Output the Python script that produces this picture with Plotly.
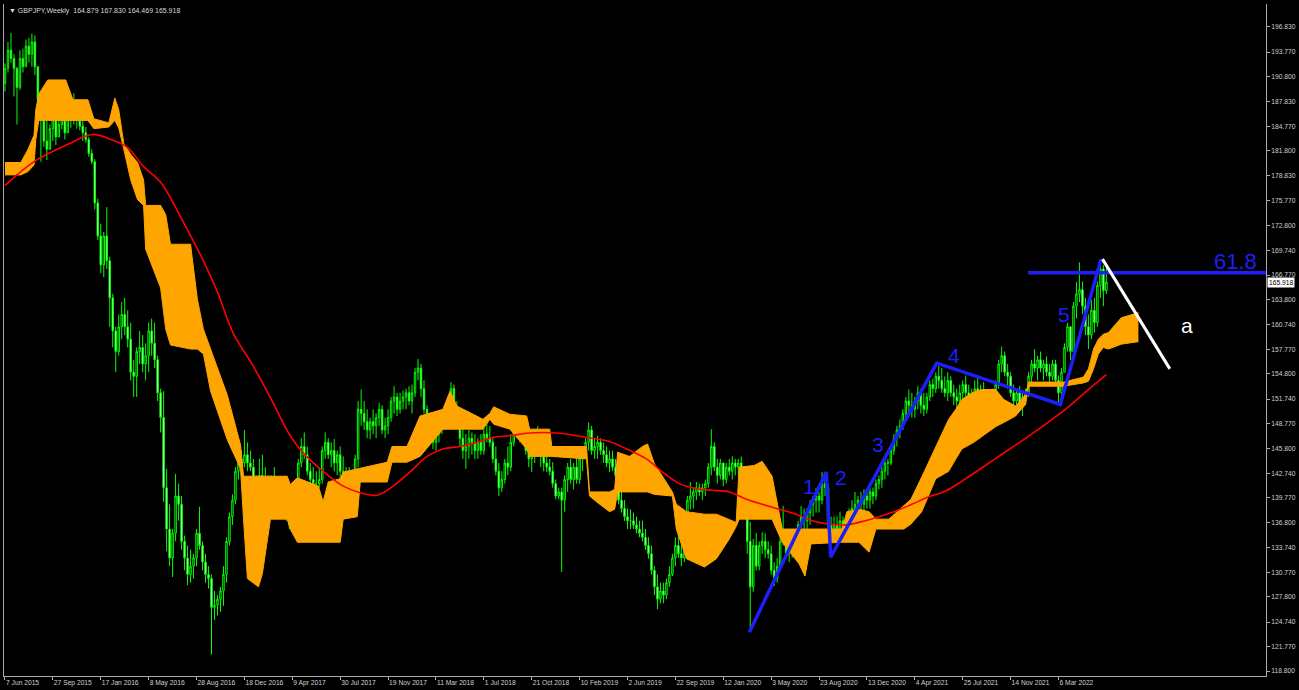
import plotly.graph_objects as go

# ---------------- data (weekly GBPJPY, week index 0 = 7 Jun 2015) ----------------
first_open = 190.0
highs = [
    192.4, 195.0, 196.1, 193.5, 192.0, 194.0, 194.2, 195.3,
    195.5, 196.0, 195.8, 192.0, 188.0, 186.4, 185.6, 185.0,
    186.4, 186.0, 186.0, 186.8, 186.2, 186.5, 187.6, 188.8,
    187.5, 187.0, 186.0, 184.7, 183.5, 182.0, 180.8, 176.0,
    173.0, 172.0, 175.0, 169.0, 164.5, 160.5, 162.0, 163.5,
    164.0, 162.5, 161.0, 156.5, 158.0, 160.0, 159.5, 158.5,
    161.0, 161.5, 161.0, 157.0, 153.0, 152.7, 143.3, 139.0,
    136.0, 142.7, 141.5, 140.0, 135.2, 134.0, 133.5, 133.0,
    136.0, 138.7, 134.5, 133.0, 131.5, 130.5, 128.5, 128.0,
    129.0, 131.5, 135.0, 138.0, 140.2, 143.5, 146.8, 145.5,
    148.0, 146.5, 145.5, 144.5, 142.5, 144.5, 145.0, 143.5,
    142.5, 142.5, 143.5, 141.5, 141.0, 141.5, 140.5, 139.0,
    138.0, 142.0, 144.5, 147.0, 147.7, 146.0, 144.0, 143.5,
    143.0, 143.5, 146.0, 147.7, 147.0, 146.5, 146.9, 145.5,
    146.0, 144.8, 143.5, 143.5, 143.0, 145.0, 151.5, 152.9,
    151.5, 150.5, 149.5, 150.5, 150.0, 151.3, 151.0, 149.5,
    150.5, 152.0, 153.3, 152.5, 152.5, 152.8, 153.0, 153.3,
    153.5, 155.5, 156.6, 156.0, 154.0, 151.0, 150.0, 148.5,
    148.5, 149.5, 150.0, 150.9, 152.0, 153.8, 153.5, 151.5,
    150.1, 148.5, 147.5, 148.0, 147.7, 147.5, 147.0, 147.5,
    148.5, 149.3, 148.5, 147.0, 146.0, 144.0, 143.0, 144.5,
    146.0, 147.5, 149.0, 149.3, 149.0, 149.0, 148.5, 146.5,
    146.0, 148.0, 148.5, 146.0, 145.3, 145.0, 144.5, 144.1,
    142.0, 141.0, 141.0, 142.5, 144.0, 144.5, 144.0, 145.0,
    145.0, 145.7, 147.0, 148.9, 148.5, 147.0, 147.3, 147.0,
    146.5, 146.0, 145.5, 145.5, 144.5, 142.5, 141.0, 139.5,
    138.5, 138.4, 138.0, 137.5, 137.0, 137.0, 136.0, 135.0,
    134.0, 131.5, 130.5, 129.5, 129.5, 130.0, 131.5, 133.0,
    135.0, 135.6, 134.5, 136.0, 140.0, 141.7, 141.0, 141.7,
    141.5, 141.5, 142.0, 144.0, 148.1, 146.5, 144.5, 144.5,
    144.0, 144.0, 144.5, 144.8, 144.5, 144.5, 144.8, 143.5,
    140.0, 136.9, 134.8, 135.5, 134.5, 135.6, 135.5, 134.5,
    134.0, 132.0, 132.5, 135.0, 138.8, 135.5, 134.5, 135.2,
    135.5, 137.0, 138.8, 138.5, 138.5, 139.5, 140.0, 141.0,
    140.5, 142.9, 142.9, 141.5, 137.5, 137.5, 137.5, 138.1,
    137.5, 137.0, 138.5, 139.5, 140.5, 140.0, 140.5, 140.8,
    140.5, 141.0, 141.0, 142.0, 142.5, 143.5, 144.8, 144.5,
    146.0, 147.5, 148.5, 149.3, 150.5, 152.0, 152.9, 152.5,
    152.0, 153.3, 153.0, 152.5, 152.5, 154.0, 154.2, 155.0,
    155.8, 155.5, 154.5, 155.0, 154.5, 153.5, 153.0, 153.5,
    154.0, 154.6, 153.5, 153.0, 154.0, 154.5, 153.5, 153.8,
    152.0, 152.5, 153.0, 154.0, 156.5, 158.1, 157.5, 156.0,
    155.0, 153.5, 153.0, 153.3, 152.5, 153.0, 155.0, 156.5,
    157.8, 157.0, 157.5, 156.5, 156.9, 156.0, 156.5, 156.5,
    154.6, 155.5, 158.5, 161.0, 160.5, 163.5, 165.9, 168.3,
    166.0, 164.0, 162.0, 163.8, 164.0, 166.0, 168.7, 168.0,
    167.830,
]
lows = [
    189.0, 191.3, 192.5, 188.4, 185.0, 189.2, 191.3, 192.0,
    192.5, 192.0, 191.0, 187.2, 180.5, 182.3, 180.7, 182.3,
    183.0, 182.5, 183.5, 184.4, 183.2, 184.0, 184.6, 185.0,
    184.5, 184.3, 183.0, 182.8, 181.1, 180.2, 174.7, 171.0,
    167.0, 166.5, 167.5, 160.5, 158.0, 155.0, 157.0, 159.0,
    159.5, 158.0, 154.0, 152.0, 152.0, 156.0, 155.0, 154.0,
    155.0, 157.0, 155.5, 151.5, 147.7, 139.3, 133.3, 131.5,
    130.2, 134.5, 137.0, 133.5, 131.0, 129.2, 129.5, 130.0,
    131.5, 133.5, 131.0, 129.5, 128.8, 120.8, 125.0, 125.5,
    126.0, 126.7, 129.5, 134.0, 136.5, 139.0, 142.0, 142.5,
    143.5, 143.0, 143.0, 139.5, 139.0, 140.5, 141.5, 140.0,
    139.5, 139.5, 139.5, 138.0, 137.5, 138.5, 137.0, 136.0,
    135.8, 136.5, 141.0, 143.5, 144.5, 142.5, 141.5, 141.0,
    140.7, 141.0, 141.5, 144.5, 144.5, 143.5, 143.0, 142.5,
    142.1, 141.5, 141.2, 141.2, 140.8, 141.5, 143.5, 148.5,
    148.0, 147.0, 146.9, 147.5, 147.0, 148.5, 147.5, 147.0,
    147.5, 149.0, 150.0, 149.7, 150.0, 150.5, 150.5, 151.0,
    150.0, 152.0, 154.0, 152.0, 150.0, 147.5, 146.5, 145.7,
    145.5, 146.5, 147.5, 148.0, 149.0, 150.5, 150.0, 149.0,
    146.0, 144.5, 143.3, 144.5, 145.0, 144.5, 144.5, 145.0,
    145.0, 146.5, 146.0, 144.0, 142.5, 140.0, 140.5, 141.5,
    142.5, 143.0, 146.0, 147.0, 146.5, 147.0, 145.0, 143.5,
    142.9, 144.0, 145.0, 143.5, 143.0, 142.9, 142.5, 141.0,
    139.6, 139.6, 130.8, 138.1, 140.5, 141.5, 140.8, 141.5,
    141.5, 143.0, 144.5, 145.5, 145.0, 144.5, 144.5, 145.0,
    144.0, 143.5, 142.9, 143.0, 142.0, 139.0, 138.0, 137.0,
    136.0, 136.0, 136.0, 135.5, 135.0, 134.5, 133.5, 132.4,
    130.5, 128.0, 126.3, 127.0, 127.0, 127.5, 129.0, 130.3,
    131.5, 132.5, 131.5, 132.0, 135.0, 138.4, 138.5, 139.5,
    140.0, 139.5, 140.0, 141.0, 142.5, 143.0, 141.5, 142.0,
    141.2, 141.5, 142.5, 142.0, 142.5, 142.5, 142.1, 138.8,
    133.0, 123.7, 128.4, 131.0, 131.0, 133.0, 132.5, 132.4,
    130.5, 129.1, 129.5, 131.0, 134.0, 132.5, 132.0, 132.5,
    133.0, 134.5, 135.5, 135.2, 136.0, 136.5, 137.5, 138.0,
    138.0, 139.0, 140.0, 136.0, 134.4, 134.8, 135.5, 135.5,
    135.0, 135.0, 135.5, 137.2, 137.5, 138.0, 138.0, 138.1,
    138.5, 138.5, 139.0, 139.5, 140.8, 141.0, 142.0, 142.5,
    143.7, 145.0, 146.0, 147.0, 148.0, 149.3, 150.0, 149.5,
    149.5, 150.5, 150.0, 149.7, 150.0, 151.5, 152.0, 152.5,
    153.0, 152.5, 152.0, 151.5, 152.0, 151.0, 150.5, 151.0,
    151.5, 152.0, 151.0, 150.9, 151.5, 152.0, 151.5, 150.5,
    149.7, 150.0, 150.5, 150.5, 153.0, 155.0, 154.5, 153.0,
    152.0, 150.5, 150.5, 150.5, 149.7, 151.0, 152.0, 153.8,
    155.0, 154.0, 155.0, 154.0, 154.5, 153.8, 154.0, 153.5,
    151.4, 152.0, 155.0, 157.5, 156.5, 157.5, 161.5, 163.5,
    162.0, 159.5, 157.8, 159.0, 159.8, 160.5, 164.0, 163.0,
    164.469,
]
closes = [
    191.8, 194.0, 193.0, 191.8, 189.5, 193.0, 192.0, 194.5,
    193.5, 195.0, 192.0, 188.0, 186.5, 183.0, 182.0, 184.5,
    185.8, 183.5, 185.0, 186.0, 184.0, 185.8, 187.0, 185.5,
    186.5, 184.8, 184.0, 183.2, 181.5, 180.5, 175.5, 171.5,
    168.0, 171.5, 168.5, 164.0, 160.0, 157.5, 160.5, 162.0,
    160.5, 159.0, 155.0, 154.5, 157.5, 158.0, 156.0, 157.0,
    160.0, 158.5, 156.5, 152.5, 149.5, 141.0, 136.0, 132.5,
    135.5, 140.0, 139.0, 134.5, 132.5, 130.5, 131.5, 132.5,
    135.5, 134.0, 132.0, 130.5, 130.0, 126.5, 126.8, 127.5,
    128.5, 130.5, 134.5, 137.5, 139.5, 143.0, 144.5, 144.0,
    145.0, 144.0, 143.5, 140.0, 141.5, 142.5, 142.0, 141.0,
    140.5, 140.5, 140.0, 139.0, 140.5, 139.0, 138.0, 136.5,
    137.5, 141.5, 144.0, 146.0, 145.0, 143.0, 142.0, 141.5,
    141.5, 142.0, 145.5, 146.5, 145.0, 145.5, 144.0, 145.0,
    143.0, 142.0, 142.5, 141.8, 142.5, 144.5, 150.5, 150.0,
    149.0, 148.0, 149.0, 148.5, 149.5, 150.5, 148.0, 148.5,
    149.5, 151.5, 152.0, 150.5, 151.5, 152.0, 152.5, 151.5,
    152.5, 155.0, 155.5, 153.0, 150.5, 148.5, 147.5, 146.5,
    147.5, 148.5, 149.0, 149.5, 151.5, 153.0, 150.5, 149.5,
    147.0, 145.5, 146.0, 147.0, 146.5, 145.5, 146.5, 145.5,
    147.5, 147.0, 146.5, 144.5, 143.0, 141.0, 142.0, 144.0,
    143.5, 146.5, 148.5, 148.0, 148.5, 147.5, 145.5, 144.5,
    145.0, 147.0, 145.5, 145.0, 144.0, 143.5, 143.0, 141.5,
    140.0, 140.5, 139.5, 142.0, 143.5, 142.0, 143.5, 142.0,
    144.5, 145.0, 146.5, 148.0, 145.5, 146.0, 146.5, 145.5,
    145.0, 144.0, 144.5, 143.5, 142.5, 139.5, 138.5, 137.5,
    137.0, 137.0, 136.5, 136.0, 135.5, 135.0, 134.0, 133.0,
    131.0, 129.0, 127.5, 128.5, 128.0, 129.5, 130.5, 132.5,
    134.0, 133.0, 132.5, 135.5, 139.5, 140.0, 140.5, 141.0,
    140.5, 141.0, 141.5, 143.5, 146.0, 143.5, 142.5, 144.0,
    142.0, 143.5, 143.0, 144.0, 143.5, 144.0, 143.0, 139.5,
    134.5, 129.0, 134.0, 131.5, 134.0, 134.5, 133.5, 133.0,
    131.0, 130.0, 131.5, 134.5, 135.0, 133.0, 133.5, 134.0,
    135.0, 136.5, 137.5, 137.0, 138.0, 139.0, 139.5, 140.0,
    139.5, 141.5, 141.0, 136.5, 135.5, 136.5, 136.0, 137.0,
    136.0, 136.5, 138.0, 138.5, 139.0, 139.5, 139.0, 140.0,
    139.5, 140.5, 140.0, 141.5, 142.0, 143.0, 144.0, 144.0,
    145.5, 147.0, 148.0, 148.5, 150.0, 151.5, 151.0, 150.5,
    151.5, 152.5, 151.0, 150.5, 152.0, 153.5, 153.0, 154.5,
    154.0, 153.0, 152.5, 154.0, 152.5, 152.0, 151.5, 152.5,
    153.5, 152.5, 151.5, 152.5, 153.0, 152.5, 152.0, 151.0,
    150.5, 152.0, 151.0, 153.5, 156.0, 157.0, 155.0, 154.5,
    152.5, 151.5, 152.5, 151.0, 152.0, 152.5, 154.5, 156.0,
    155.5, 156.5, 155.5, 156.0, 155.0, 154.5, 156.0, 154.0,
    152.5, 155.0, 158.0, 160.5, 157.5, 163.0, 164.5, 165.0,
    163.0, 160.5, 159.5, 162.5, 161.0, 165.5, 167.5, 164.879,
    165.918,
]

# Ichimoku cloud boundaries (week index, span values)
cloud_w = [0, 5.3, 7.7, 9.7, 10.3, 11.3, 14.3, 20.3, 22.7, 27.7, 29.7, 34.7, 36.7, 38, 39.7, 42,
           44.3, 46.3, 47, 52, 53.7, 55.3, 62, 64.3, 66.3, 68.7, 74.3, 78.7, 79.7, 81, 84.7, 86,
           88.7, 94.3, 95.3, 97.7, 104.7, 106.3, 108, 112, 113, 117.7, 118.7, 127.7, 129.3, 134.3,
           138.7, 146.3, 148.7, 151, 159.7, 162, 163.3, 168.7, 174.3, 175.3, 182, 182.7, 194.3,
           195.3, 198.7, 202, 203.7, 204.7, 208.7, 213, 214.7, 217, 223, 224.3, 227.7, 233.7,
           237.7, 242, 244.3, 245.3, 250.3, 253, 256.3, 259.7, 265.3, 267.3, 269.3, 279.7, 281.3,
           285.3, 288.7, 291, 295.3, 300.3, 302.7, 306.3, 311, 315.3, 317.7, 319.7, 323.7, 326.3,
           331, 333.7, 337.7, 341, 342, 353.7, 360.3, 362, 363.7, 365.3, 367, 368.7, 373, 378.7]
cloud_top = [180.4, 180.4, 182.0, 183.7, 186.8, 188.7, 190.4, 190.4, 188.0, 188.0, 185.7, 185.2,
             188.2, 186.8, 182.7, 181.4, 180.4, 178.3, 175.2, 175.2, 174.1, 170.5, 170.5, 163.8,
             160.2, 157.8, 152.2, 146.2, 142.4, 142.4, 142.4, 142.4, 142.4, 142.4, 141.4, 142.2,
             141.2, 139.3, 141.7, 142.1, 142.9, 143.3, 143.3, 144.1, 146.0, 146.0, 149.7, 150.5,
             152.7, 150.9, 149.3, 150.0, 150.8, 149.9, 149.7, 148.1, 148.1, 146.0, 146.0, 140.5,
             140.5, 140.5, 140.8, 145.3, 144.8, 146.0, 146.3, 143.9, 140.5, 139.0, 138.1, 137.8,
             137.8, 137.2, 136.8, 143.5, 143.7, 144.2, 142.4, 136.0, 136.0, 136.0, 136.0, 136.0,
             138.1, 138.4, 138.1, 137.2, 137.2, 138.8, 139.6, 142.3, 146.0, 149.3, 150.5, 151.7,
             152.6, 152.9, 152.9, 151.7, 150.9, 152.3, 153.8, 153.8, 154.4, 155.4, 157.8, 159.0,
             159.6, 159.8, 161.6, 162.2]
cloud_bot = [178.9, 178.9, 179.3, 180.1, 183.2, 185.5, 185.5, 185.5, 185.5, 185.5, 184.5, 184.7,
             185.5, 184.6, 182.0, 178.3, 175.9, 175.2, 169.9, 165.2, 160.2, 158.3, 157.8, 157.8,
             157.2, 152.7, 146.8, 143.3, 137.2, 130.0, 129.0, 130.6, 137.2, 137.2, 136.0, 134.4,
             134.4, 134.4, 134.4, 134.4, 137.2, 137.5, 141.7, 141.7, 144.1, 144.1, 144.8, 148.1,
             148.1, 148.1, 148.1, 149.3, 148.7, 148.1, 145.7, 144.8, 144.8, 144.8, 144.5, 140.0,
             139.0, 138.1, 138.4, 140.5, 140.5, 140.5, 140.5, 140.2, 140.0, 136.0, 132.4, 131.4,
             132.4, 134.8, 136.3, 137.2, 137.2, 137.2, 137.2, 134.4, 131.8, 130.3, 134.2, 134.4,
             134.4, 134.4, 133.2, 136.0, 136.0, 136.0, 136.6, 138.1, 142.1, 143.0, 144.5, 145.7,
             146.5, 147.2, 148.4, 148.9, 149.7, 151.1, 153.3, 153.3, 153.7, 153.9, 155.4, 157.2,
             158.0, 157.8, 158.4, 158.7]

# moving average (red)
ma_w = [0, 9.7, 21, 29.3, 35.3, 41, 46.3, 52, 59.7, 65.3, 71, 76.3, 83, 89.7, 95.3, 99.7, 105.3,
        113, 118.7, 124.3, 129.7, 135.3, 141, 146.3, 152, 157.7, 163, 168.7, 174.3, 179.7, 185.3,
        191, 196.3, 202, 207.7, 214.3, 219.7, 225.3, 231, 236.3, 242, 247.7, 253, 258.7, 264.3,
        269.7, 275.3, 281, 286.3, 292, 297.7, 303, 308.7, 314.3, 321, 332, 343, 354.3, 362, 368]
ma_v = [177.6, 180.5, 182.6, 183.8, 183.2, 182.2, 179.9, 178.0, 173.1, 169.2, 164.7, 159.7, 155.7,
        151.2, 147.3, 145.2, 143.3, 141.2, 140.4, 140.1, 141.2, 142.9, 144.8, 145.7, 146.0, 146.5,
        147.1, 147.3, 147.6, 147.7, 147.6, 147.3, 147.0, 146.6, 145.7, 144.5, 142.9, 141.5, 140.9,
        140.7, 140.5, 139.6, 139.0, 138.4, 137.8, 137.0, 136.6, 136.5, 136.9, 137.5, 138.2, 139.0,
        139.9, 140.6, 142.1, 144.8, 147.5, 150.5, 152.9, 154.7]

# Elliott wave count
wave_w = [248.7, 274.4, 275.9, 311.3, 352.6, 366.2]
wave_p = [123.5, 142.9, 132.6, 156.1, 151.1, 168.7]
wave_labels = ["1", "2", "3", "4", "5"]
wave_label_w = [268.7, 279.3, 291.7, 317.0, 354.0]
wave_label_p = [141.2, 142.3, 146.3, 157.0, 162.0]
corr_w = [366.7, 389.2]
corr_p = [168.7, 155.4]
corr_label = "a"
corr_label_w, corr_label_p = 395.0, 160.7
fib_level = 167.05
fib_start_w = 341.8
fib_text = "61.8"
fib_label_w, fib_label_p = 411.3, 168.4

symbol = "GBPJPY,Weekly"
y_ticks = [196.830, 193.770, 190.800, 187.830, 184.770, 181.800, 178.830, 175.770, 172.800,
           169.740, 166.770, 163.800, 160.740, 157.770, 154.800, 151.740, 148.770, 145.800,
           142.740, 139.770, 136.800, 133.740, 130.770, 127.800, 124.740, 121.770, 118.800]
x_tick_weeks = [0, 16, 32, 48, 64, 80, 96, 112, 128, 144, 160, 176, 192, 208, 224, 240, 256,
                272, 288, 304, 320, 336, 352]
x_tick_labels = ["7 Jun 2015", "27 Sep 2015", "17 Jan 2016", "8 May 2016", "28 Aug 2016",
                 "18 Dec 2016", "9 Apr 2017", "30 Jul 2017", "19 Nov 2017", "11 Mar 2018",
                 "1 Jul 2018", "21 Oct 2018", "10 Feb 2019", "2 Jun 2019", "22 Sep 2019",
                 "12 Jan 2020", "3 May 2020", "23 Aug 2020", "13 Dec 2020", "4 Apr 2021",
                 "25 Jul 2021", "14 Nov 2021", "6 Mar 2022"]

X_RANGE = [-0.33, 421.33]
Y_RANGE = [118.2, 199.6]

# ---------------- build ----------------
n = len(closes)
weeks = list(range(n))
opens = [first_open] + closes[:-1]
highs_c = [max(h, o, c) for h, o, c in zip(highs, opens, closes)]
lows_c = [min(l, o, c) for l, o, c in zip(lows, opens, closes)]

BLUE = "#1e1ef8"
ORANGE = "#ffa500"
FONT = "Liberation Sans"

fig = go.Figure()
fig.add_trace(go.Candlestick(
    x=weeks, open=opens, high=highs_c, low=lows_c, close=closes,
    increasing=dict(line=dict(color="#00ff00", width=1), fillcolor="#000000"),
    decreasing=dict(line=dict(color="#00ff00", width=1), fillcolor="#ffffff"),
    whiskerwidth=0, showlegend=False, hoverinfo="skip"))

fig.add_trace(go.Scatter(x=cloud_w, y=cloud_bot, mode="lines",
                         line=dict(color=ORANGE, width=1), showlegend=False, hoverinfo="skip"))
fig.add_trace(go.Scatter(x=cloud_w, y=cloud_top, mode="lines", fill="tonexty", fillcolor=ORANGE,
                         line=dict(color=ORANGE, width=1), showlegend=False, hoverinfo="skip"))

fig.add_trace(go.Scatter(x=ma_w, y=ma_v, mode="lines", line=dict(color="#ff0000", width=1.6, shape="spline"),
                         showlegend=False, hoverinfo="skip"))

fig.add_trace(go.Scatter(x=[fib_start_w, X_RANGE[1]], y=[fib_level, fib_level], mode="lines",
                         line=dict(color=BLUE, width=3.5), showlegend=False, hoverinfo="skip"))
fig.add_trace(go.Scatter(x=wave_w, y=wave_p, mode="lines", line=dict(color=BLUE, width=3.5),
                         showlegend=False, hoverinfo="skip"))
fig.add_trace(go.Scatter(x=corr_w, y=corr_p, mode="lines", line=dict(color="#ffffff", width=3),
                         showlegend=False, hoverinfo="skip"))

annotations = []
for t, w, p in zip(wave_labels, wave_label_w, wave_label_p):
    annotations.append(dict(x=w, y=p, xref="x", yref="y", text=t, showarrow=False,
                            font=dict(family=FONT, size=21, color=BLUE)))
annotations.append(dict(x=corr_label_w, y=corr_label_p, xref="x", yref="y", text=corr_label,
                        showarrow=False, font=dict(family=FONT, size=21, color="#ffffff")))
annotations.append(dict(x=fib_label_w, y=fib_label_p, xref="x", yref="y", text=fib_text,
                        showarrow=False, font=dict(family=FONT, size=22, color=BLUE)))
header = "▼ %s  %.3f %.3f %.3f %.3f" % (symbol, opens[-1], highs[-1], lows[-1], closes[-1])
annotations.append(dict(x=0, y=1, xref="paper", yref="paper", xanchor="left", yanchor="top",
                        xshift=3, yshift=-1, text=header, showarrow=False,
                        font=dict(family=FONT, size=7, color="#d8d8d8")))
annotations.append(dict(x=1, y=closes[-1], xref="paper", yref="y", xanchor="left", yanchor="middle",
                        xshift=1, text="%.3f" % closes[-1], showarrow=False, bgcolor="#ffffff",
                        borderpad=1, font=dict(family=FONT, size=6.7, color="#000000")))

fig.update_layout(
    width=1299, height=690,
    margin=dict(l=3, r=31, t=4, b=14),
    paper_bgcolor="#000000", plot_bgcolor="#000000",
    showlegend=False, annotations=annotations,
    xaxis=dict(range=X_RANGE, tickmode="array", tickvals=x_tick_weeks, ticktext=x_tick_labels,
               ticks="outside", ticklen=3, tickcolor="#b0b0b0",
               ticklabelposition="outside right",
               tickfont=dict(family=FONT, size=6.7, color="#d0d0d0"),
               showline=True, linecolor="#a8a8a8", linewidth=1, mirror=False,
               showgrid=False, zeroline=False, rangeslider=dict(visible=False), fixedrange=True),
    yaxis=dict(side="right", range=Y_RANGE, tickmode="array", tickvals=y_ticks,
               ticktext=["%.3f" % v for v in y_ticks], ticks="outside", ticklen=3, tickcolor="#b0b0b0",
               tickfont=dict(family=FONT, size=6.7, color="#d0d0d0"),
               showline=True, linecolor="#a8a8a8", linewidth=1, mirror=True,
               showgrid=False, zeroline=False, fixedrange=True),
)

fig.write_html("out.html", config={"displayModeBar": False},
               post_script="document.body.style.margin='0';document.body.style.overflow='hidden';")
